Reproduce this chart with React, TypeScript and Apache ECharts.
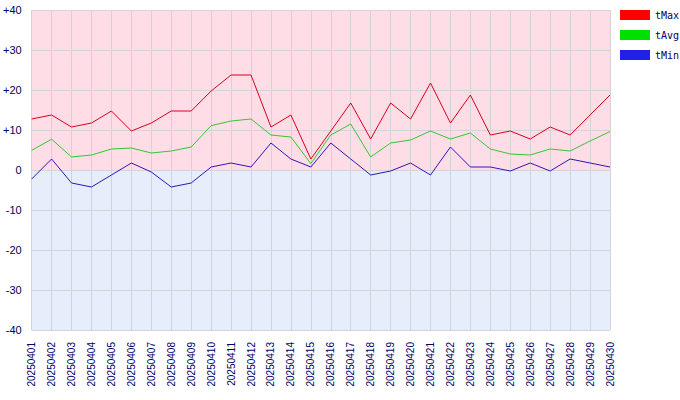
import React, { useEffect, useRef } from "react";
import * as echarts from "echarts";

const dates = [
  "20250401","20250402","20250403","20250404","20250405","20250406","20250407","20250408","20250409","20250410",
  "20250411","20250412","20250413","20250414","20250415","20250416","20250417","20250418","20250419","20250420",
  "20250421","20250422","20250423","20250424","20250425","20250426","20250427","20250428","20250429","20250430",
];
const tMax = [12.75, 13.75, 10.75, 11.75, 14.75, 9.75, 11.75, 14.75, 14.75, 19.75,
  23.75, 23.75, 10.75, 13.75, 2.75, 9.75, 16.75, 7.75, 16.75, 12.75,
  21.75, 11.75, 18.75, 8.75, 9.75, 7.75, 10.75, 8.75, 13.75, 18.75];
const tAvg = [4.9, 7.7, 3.25, 3.75, 5.25, 5.5, 4.25, 4.75, 5.75, 11.1,
  12.25, 12.75, 8.75, 8.25, 1.6, 8.75, 11.5, 3.25, 6.75, 7.5,
  9.75, 7.75, 9.25, 5.25, 4.0, 3.75, 5.25, 4.75, 7.25, 9.6];
const tMin = [-2.25, 2.75, -3.25, -4.25, -1.25, 1.75, -0.5, -4.25, -3.25, 0.75,
  1.75, 0.75, 6.75, 2.75, 0.75, 6.75, 2.75, -1.25, -0.25, 1.75,
  -1.25, 5.75, 0.75, 0.75, -0.25, 1.75, -0.25, 2.75, 1.75, 0.75];
const yTickValues = [-40, -30, -20, -10, 0, 10, 20, 30, 40];
const yTickLabels = ["-40", "-30", "-20", "-10", "0", "+10", "+20", "+30", "+40"];
const seriesNames = ["tMax", "tAvg", "tMin"];

export default function App() {
  const ref = useRef<HTMLDivElement>(null);
  useEffect(() => {
    document.body.style.margin = "0";
    const chart = echarts.init(ref.current!, null, { renderer: "svg" });
    const navy = "#000066";
    const gridColor = "#d6d2da";
    chart.setOption({
      animation: false,
      backgroundColor: "#ffffff",
      grid: { left: 30, right: 70, top: 10, bottom: 70, containLabel: false },
      legend: {
        orient: "vertical",
        left: 620,
        top: 10,
        padding: 0,
        width: 60,
        itemWidth: 30,
        itemHeight: 10,
        itemGap: 10,
        icon: "rect",
        textStyle: { color: navy, fontFamily: "DejaVu Sans Mono", fontSize: 10, lineHeight: 10, width: 26, overflow: "none" },
        data: [
          { name: seriesNames[0], itemStyle: { color: "#ff0000" } },
          { name: seriesNames[1], itemStyle: { color: "#00e000" } },
          { name: seriesNames[2], itemStyle: { color: "#2020e8" } },
        ],
      },
      xAxis: {
        type: "category",
        data: dates,
        boundaryGap: false,
        z: 1.5,
        axisLine: { show: true, lineStyle: { color: gridColor } },
        axisTick: { show: false },
        axisLabel: {
          rotate: 90,
          interval: 0,
          margin: 12,
          color: navy,
          fontFamily: "Liberation Sans",
          fontSize: 10,
        },
        splitLine: { show: true, interval: 0, lineStyle: { color: gridColor, width: 1 } },
      },
      yAxis: {
        type: "value",
        min: -40,
        max: 40,
        interval: 10,
        z: 1.5,
        axisLine: { show: false },
        axisTick: { show: false },
        axisLabel: {
          margin: 10,
          color: navy,
          fontFamily: "Liberation Sans",
          fontSize: 11,
          formatter: (v: number) => yTickLabels[yTickValues.indexOf(v)] ?? String(v),
        },
        splitLine: { show: true, lineStyle: { color: gridColor, width: 1 } },
      },
      series: [
        {
          name: seriesNames[0],
          type: "line",
          data: tMax,
          symbol: "none",
          lineStyle: { color: "#d8001c", width: 1 },
          itemStyle: { color: "#ff0000" },
          markArea: {
            silent: true,
            z: 1,
            itemStyle: { opacity: 1 },
            data: [
              [{ yAxis: 0, itemStyle: { color: "#ffdde6" } }, { yAxis: 40 }],
              [{ yAxis: -40, itemStyle: { color: "#e6eefb" } }, { yAxis: 0 }],
            ],
          },
        },
        {
          name: seriesNames[1],
          type: "line",
          data: tAvg,
          symbol: "none",
          lineStyle: { color: "#30c830", width: 1 },
          itemStyle: { color: "#00e000" },
        },
        {
          name: seriesNames[2],
          type: "line",
          data: tMin,
          symbol: "none",
          lineStyle: { color: "#2a18b8", width: 1 },
          itemStyle: { color: "#2020e8" },
        },
      ],
    });
    return () => chart.dispose();
  }, []);
  return <div ref={ref} style={{ width: 680, height: 400 }} />;
}
